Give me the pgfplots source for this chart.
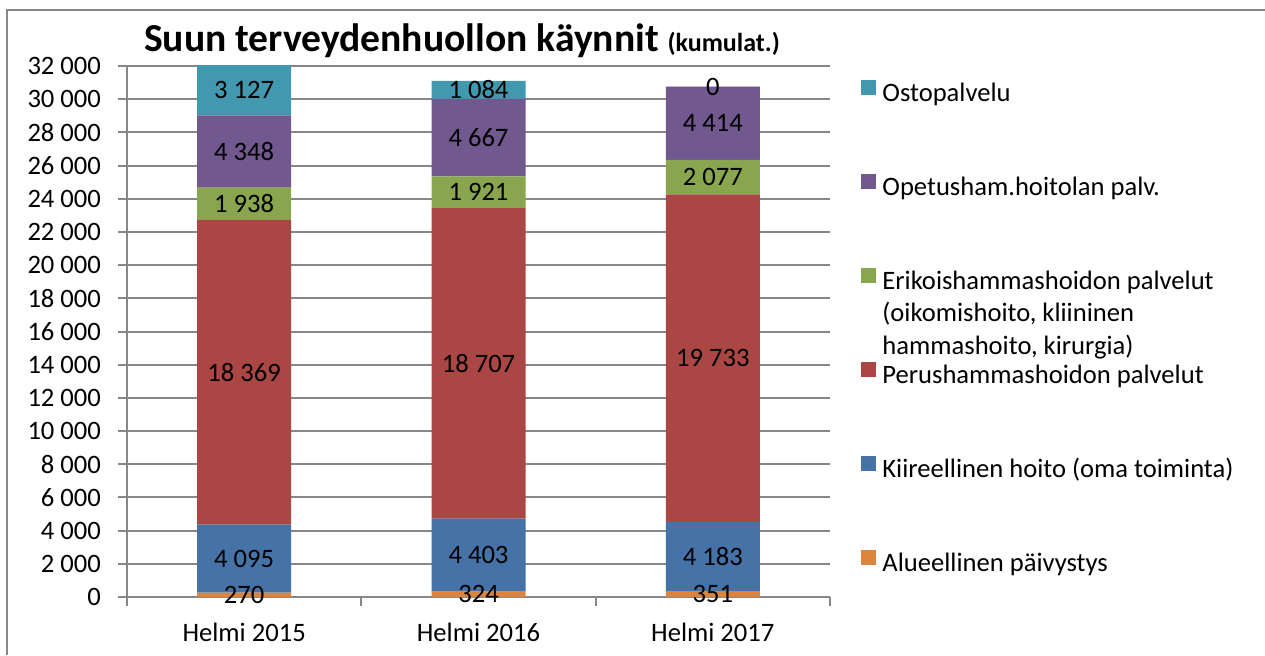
\documentclass[border=0pt]{standalone}
\usepackage{fontspec}
\setmainfont{Carlito}
\usepackage{pgfplots}
\pgfplotsset{compat=1.18}
\definecolor{cAlue}{HTML}{DB843D}
\definecolor{cKiir}{HTML}{4572A7}
\definecolor{cPerus}{HTML}{AA4643}
\definecolor{cErik}{HTML}{89A54E}
\definecolor{cOpet}{HTML}{71588F}
\definecolor{cOsto}{HTML}{4198AF}
\definecolor{gridgray}{HTML}{878787}
\begin{document}
\begin{tikzpicture}[font=\fontsize{13.3}{16}\selectfont]
\useasboundingbox (0,0) rectangle (632.5pt,327.5pt);
\draw[gridgray, line width=1pt] (3.5pt,0pt) -- (3.5pt,322.5pt) -- (632.5pt,322.5pt);
\begin{axis}[
  at={(63.5pt,29pt)}, anchor=south west,
  scale only axis, width=351.5pt, height=265.5pt,
  ybar stacked, bar width=47pt,
  xmin=-0.5, xmax=2.5, ymin=0, ymax=32000,
  xtick={0,1,2}, xticklabels={Helmi 2015,Helmi 2016,Helmi 2017},
  minor xtick={-0.5,0.5,1.5,2.5},
  ytick={0,2000,...,32000},
  major x tick style={draw=none},
  tick align=outside,
  major tick length=4.5pt, minor tick length=4.5pt,
  tick style={gridgray, line width=1pt},
  axis x line*=bottom, axis y line*=left,
  axis line style={gridgray, line width=1pt},
  ymajorgrids, grid style={gridgray, line width=1pt},
  /pgf/number format/.cd, 1000 sep={\ }, assume math mode=true, fixed, precision=0,
  /pgfplots/.cd,
  scaled y ticks=false,
  tick label style={font=\fontsize{13.3}{16}\selectfont, text=black},
  yticklabel style={xshift=-5pt},
  xticklabel style={yshift=-5pt},
  clip=false,
  point meta=rawy,
  nodes near coords,
  every node near coord/.append style={anchor=center, text=black, font=\fontsize{13.3}{16}\selectfont},
  title={\bfseries\fontsize{19.8}{24}\selectfont Suun terveydenhuollon käynnit \fontsize{13}{16}\selectfont(kumulat.)},
  title style={at={(axis description cs:0.4765,1.0264)}, anchor=base, yshift=-6pt},
  reverse legend,
  legend cell align=left,
  legend image code/.code={\fill[#1] (0pt,0pt) rectangle (7.5pt,7.5pt);},
  legend style={draw=none, fill=none, inner sep=0pt, at={(axis description cs:1.0441,0.9736)}, anchor=north west,
    row sep=32.5pt, column sep=2pt,
    nodes={inner sep=1pt, text height=9pt, text depth=3pt, font=\fontsize{13.3}{16}\selectfont}},
]
\addplot[fill=cAlue, draw=none] coordinates {(0,270) (1,324) (2,351)};
\addlegendentry{Alueellinen päivystys}
\addplot[fill=cKiir, draw=none] coordinates {(0,4095) (1,4403) (2,4183)};
\addlegendentry{Kiireellinen hoito (oma toiminta)}
\addplot[fill=cPerus, draw=none] coordinates {(0,18369) (1,18707) (2,19733)};
\addlegendentry{Perushammashoidon palvelut}
\addplot[fill=cErik, draw=none] coordinates {(0,1938) (1,1921) (2,2077)};
\addlegendentry{\smash{\parbox[t]{180pt}{\fontsize{13.3}{16.25}\selectfont Erikoishammashoidon palvelut\\(oikomishoito, kliininen\\hammashoito, kirurgia)}}}
\addplot[fill=cOpet, draw=none] coordinates {(0,4348) (1,4667) (2,4414)};
\addlegendentry{Opetusham.hoitolan palv.}
\addplot[fill=cOsto, draw=none] coordinates {(0,3127) (1,1084) (2,0.001)};
\addlegendentry{Ostopalvelu}
\end{axis}
% mask the part of the first bar that runs above the axis limit (the reference clips it)
\fill[white] (97.5pt,295pt) rectangle (146.5pt,296.8pt);
\end{tikzpicture}
\end{document}
